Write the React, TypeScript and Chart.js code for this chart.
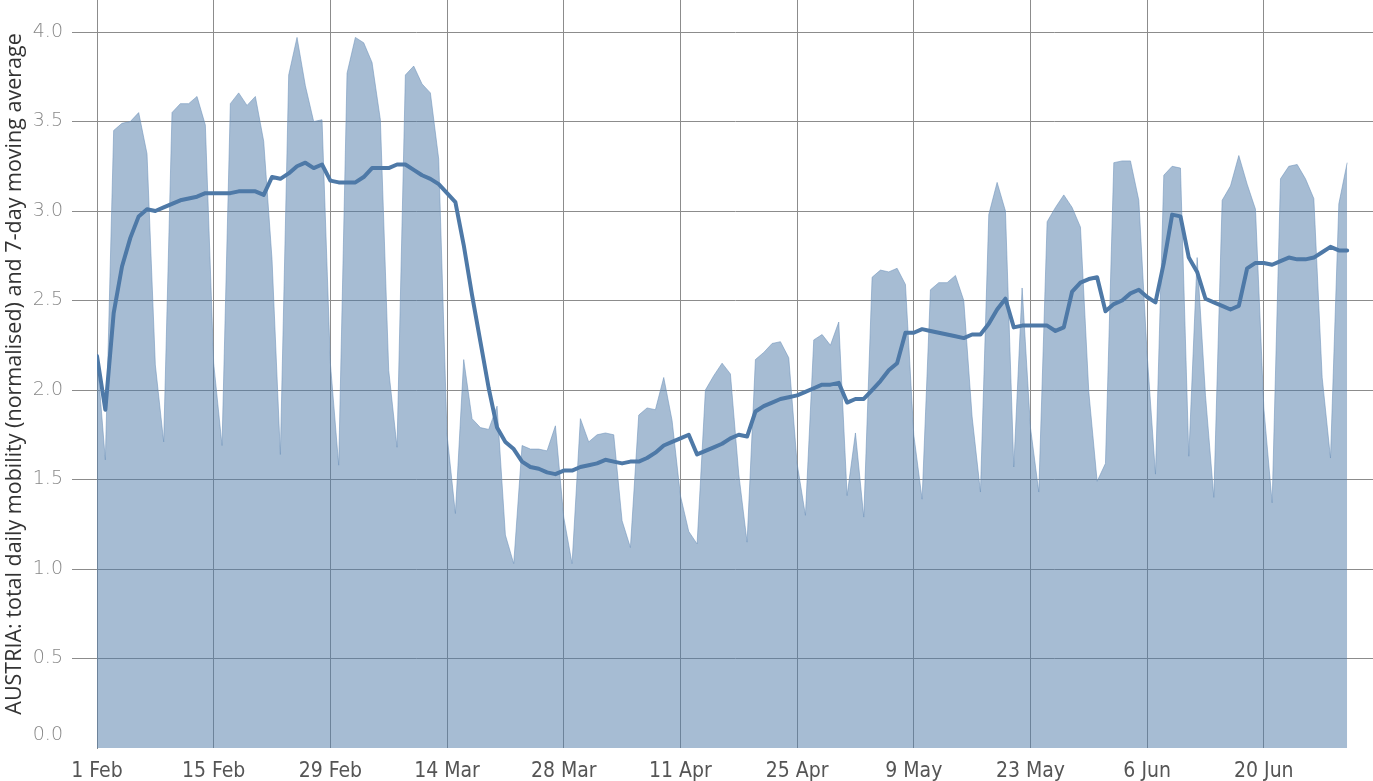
import React, { useEffect, useRef } from "react";
import { Chart, registerables } from "chart.js";

Chart.register(...registerables);

// Day index 0 = 1 Feb 2020, one value per day up to 30 Jun 2020
const tickDays = [0, 14, 28, 42, 56, 70, 84, 98, 112, 126, 140];
const tickLabels = ["1 Feb", "15 Feb", "29 Feb", "14 Mar", "28 Mar", "11 Apr", "25 Apr", "9 May", "23 May", "6 Jun", "20 Jun"];
const yTickValues = [0, 0.5, 1.0, 1.5, 2.0, 2.5, 3.0, 3.5, 4.0];
const yTickLabels = ["0.0", "0.5", "1.0", "1.5", "2.0", "2.5", "3.0", "3.5", "4.0"];

const dailyMobility = [
  2.19, 1.61, 3.45, 3.49, 3.50, 3.55, 3.32, 2.14, 1.71, 3.55,
  3.60, 3.60, 3.64, 3.48, 2.15, 1.69, 3.60, 3.66, 3.59, 3.64,
  3.39, 2.73, 1.64, 3.76, 3.97, 3.70, 3.50, 3.51, 2.15, 1.58,
  3.77, 3.97, 3.94, 3.83, 3.51, 2.11, 1.68, 3.76, 3.81, 3.71,
  3.66, 3.29, 1.75, 1.31, 2.17, 1.84, 1.79, 1.78, 1.91, 1.19,
  1.03, 1.69, 1.67, 1.67, 1.66, 1.80, 1.29, 1.03, 1.84, 1.71,
  1.75, 1.76, 1.75, 1.27, 1.12, 1.86, 1.90, 1.89, 2.07, 1.83,
  1.41, 1.21, 1.14, 2.00, 2.08, 2.15, 2.09, 1.53, 1.15, 2.17,
  2.21, 2.26, 2.27, 2.18, 1.59, 1.30, 2.28, 2.31, 2.25, 2.38,
  1.41, 1.76, 1.29, 2.63, 2.67, 2.66, 2.68, 2.59, 1.75, 1.39,
  2.56, 2.60, 2.60, 2.64, 2.50, 1.85, 1.43, 2.98, 3.16, 3.00,
  1.57, 2.57, 1.79, 1.43, 2.94, 3.02, 3.09, 3.02, 2.91, 1.99,
  1.49, 1.59, 3.27, 3.28, 3.28, 3.06, 2.20, 1.53, 3.20, 3.25,
  3.24, 1.63, 2.74, 1.97, 1.40, 3.06, 3.14, 3.31, 3.15, 3.01,
  1.90, 1.37, 3.18, 3.25, 3.26, 3.18, 3.07, 2.07, 1.62, 3.04,
  3.27,
];

const movingAverage = [
  2.19, 1.89, 2.43, 2.69, 2.85, 2.97, 3.01, 3.00, 3.02, 3.04,
  3.06, 3.07, 3.08, 3.10, 3.10, 3.10, 3.10, 3.11, 3.11, 3.11,
  3.09, 3.19, 3.18, 3.21, 3.25, 3.27, 3.24, 3.26, 3.17, 3.16,
  3.16, 3.16, 3.19, 3.24, 3.24, 3.24, 3.26, 3.26, 3.23, 3.20,
  3.18, 3.15, 3.10, 3.05, 2.81, 2.53, 2.27, 2.01, 1.79, 1.71,
  1.67, 1.60, 1.57, 1.56, 1.54, 1.53, 1.55, 1.55, 1.57, 1.58,
  1.59, 1.61, 1.60, 1.59, 1.60, 1.60, 1.62, 1.65, 1.69, 1.71,
  1.73, 1.75, 1.64, 1.66, 1.68, 1.70, 1.73, 1.75, 1.74, 1.88,
  1.91, 1.93, 1.95, 1.96, 1.97, 1.99, 2.01, 2.03, 2.03, 2.04,
  1.93, 1.95, 1.95, 2.00, 2.05, 2.11, 2.15, 2.32, 2.32, 2.34,
  2.33, 2.32, 2.31, 2.30, 2.29, 2.31, 2.31, 2.37, 2.45, 2.51,
  2.35, 2.36, 2.36, 2.36, 2.36, 2.33, 2.35, 2.55, 2.60, 2.62,
  2.63, 2.44, 2.48, 2.50, 2.54, 2.56, 2.52, 2.49, 2.71, 2.98,
  2.97, 2.74, 2.66, 2.51, 2.49, 2.47, 2.45, 2.47, 2.68, 2.71,
  2.71, 2.70, 2.72, 2.74, 2.73, 2.73, 2.74, 2.77, 2.80, 2.78,
  2.78,
];

const yTitle = "AUSTRIA: total daily mobility (normalised) and 7-day moving average";

export default function App() {
  const canvasRef = useRef<HTMLCanvasElement>(null);

  useEffect(() => {
    document.body.style.margin = "0";
    const canvas = canvasRef.current;
    if (!canvas) return;
    const gridColor = "#8c8c8c";
    const zeroLabelLift = 0.073; // the 0.0 label sits slightly above the baseline

    const chart = new Chart(canvas, {
      type: "line",
      data: {
        datasets: [
          {
            label: "7-day moving average",
            data: movingAverage.map((y, i) => ({ x: i, y })),
            borderColor: "#4e79a7",
            borderWidth: 4,
            pointRadius: 0,
            fill: false,
            tension: 0,
            borderJoinStyle: "round",
            borderCapStyle: "round",
            order: 0,
          },
          {
            label: "Total daily mobility",
            data: dailyMobility.map((y, i) => ({ x: i, y })),
            borderColor: "rgba(110,145,185,0.55)",
            borderWidth: 1,
            backgroundColor: "rgba(78,121,167,0.5)",
            fill: "origin",
            pointRadius: 0,
            tension: 0,
            order: 1,
          },
        ],
      },
      options: {
        animation: false,
        responsive: true,
        maintainAspectRatio: false,
        layout: { padding: 0 },
        plugins: {
          legend: { display: false },
          tooltip: { enabled: false },
        },
        scales: {
          x: {
            type: "linear",
            min: 0,
            max: 153.1,
            afterBuildTicks: (scale: any) => {
              scale.ticks = tickDays.map((v) => ({ value: v }));
            },
            afterFit: (scale: any) => {
              scale.height = 33;
              scale.paddingLeft = 0;
              scale.paddingRight = 0;
            },
            ticks: {
              autoSkip: false,
              maxRotation: 0,
              padding: 11,
              color: "#555",
              font: { family: '"Liberation Sans Narrow", "DejaVu Sans Condensed", sans-serif', size: 21 },
              callback: (v: any) => {
                const idx = tickDays.indexOf(Number(v));
                return idx >= 0 ? tickLabels[idx] : "";
              },
            },
            grid: { color: gridColor, lineWidth: 1, drawTicks: false },
            border: { display: false },
          },
          y: {
            type: "linear",
            min: 0,
            max: 4.179,
            afterBuildTicks: (scale: any) => {
              scale.ticks = yTickValues.map((v) => ({ value: v === 0 ? zeroLabelLift : v }));
            },
            afterFit: (scale: any) => {
              scale.width = 97;
              scale.paddingTop = 0;
              scale.paddingBottom = 0;
            },
            ticks: {
              padding: 9,
              color: "#888",
              font: { family: '"DejaVu Sans", sans-serif', size: 19, weight: "200" },
              callback: (v: any) => {
                const val = Number(v);
                if (val < 0.25) return yTickLabels[0];
                const idx = yTickValues.findIndex((t) => Math.abs(t - val) < 1e-6);
                return idx >= 0 ? yTickLabels[idx] : "";
              },
            },
            grid: {
              color: (ctx: any) => (ctx.tick && ctx.tick.value < 0.25 ? "rgba(0,0,0,0)" : gridColor),
              lineWidth: 1,
              tickLength: 25,
            },
            border: { display: true, color: gridColor },
            title: {
              display: true,
              text: yTitle,
              color: "#333",
              font: { family: '"Open Sans", sans-serif', size: 21.5 },
              padding: { top: 2, bottom: 0 },
            },
          },
        },
      },
    });
    return () => chart.destroy();
  }, []);

  return (
    <div style={{ position: "fixed", left: 0, top: 0, width: 1373, height: 781 }}>
      <canvas ref={canvasRef} />
    </div>
  );
}
